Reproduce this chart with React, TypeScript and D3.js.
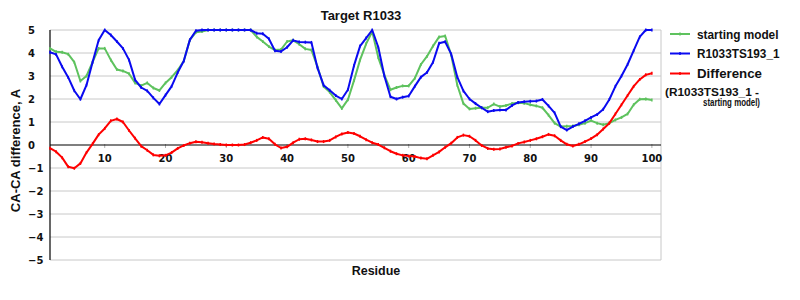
import React from "react";
import * as d3 from "d3";

const residues: number[] = Array.from({ length: 100 }, (_, i) => i + 1);

const startingModel: number[] = [
  4.2, 4.05, 4.03, 3.95, 3.6, 2.78, 3.0, 3.6, 4.2, 4.2,
  3.7, 3.28, 3.22, 3.1, 2.7, 2.58, 2.7, 2.48, 2.37, 2.7,
  2.95, 3.25, 3.65, 4.57, 4.9, 4.93, 5.0, 5.0, 5.0, 5.0,
  5.0, 5.0, 5.0, 5.0, 4.7, 4.5, 4.28, 4.13, 4.15, 4.5,
  4.55, 4.38, 4.18, 4.13, 3.4, 2.54, 2.3, 1.95, 1.59, 1.97,
  2.8, 3.7, 4.4, 4.93, 3.8, 3.04, 2.4, 2.5, 2.57, 2.57,
  2.9, 3.5, 3.85, 4.3, 4.7, 4.74, 3.9, 2.6, 1.8, 1.57,
  1.6, 1.62, 1.62, 1.78, 1.67, 1.72, 1.8, 1.84, 1.82, 1.75,
  1.7, 1.62, 1.3, 0.95, 0.8, 0.82, 0.83, 0.88, 0.95, 1.06,
  0.95, 0.88, 0.95, 1.09, 1.2, 1.35, 1.75, 1.99, 2.0, 1.96,
];

const model: number[] = [
  4.03, 3.94, 3.4, 2.94, 2.36, 1.99, 2.6, 3.6, 4.55, 5.0,
  4.78, 4.5, 4.2, 3.7, 2.83, 2.5, 2.35, 2.05, 1.78, 2.17,
  2.55, 3.15, 3.65, 4.57, 4.97, 5.0, 5.0, 5.0, 5.0, 5.0,
  5.0, 5.0, 5.0, 5.0, 4.86, 4.84, 4.62, 4.1, 4.07, 4.25,
  4.55, 4.48, 4.47, 4.46, 3.35, 2.6, 2.38, 2.15, 2.0, 2.4,
  3.45, 4.3, 4.65, 5.0, 4.25, 3.0, 2.1, 2.0, 2.08, 2.13,
  2.55, 2.95, 3.15, 3.6, 4.42, 4.49, 3.95, 2.95, 2.35, 2.0,
  1.8, 1.62, 1.45, 1.5, 1.52, 1.52, 1.72, 1.85, 1.88, 1.9,
  1.91, 1.98, 1.7, 1.4, 0.8, 0.65, 0.8, 0.92, 1.05, 1.2,
  1.33, 1.55, 1.98, 2.55, 3.0, 3.5, 4.1, 4.7, 5.0, 5.0,
];

const difference: number[] = [
  -0.14, -0.29, -0.55, -0.95, -1.01, -0.8, -0.33, 0.05, 0.45, 0.72,
  1.05, 1.13, 1.0, 0.63, 0.29, -0.05, -0.23, -0.43, -0.47, -0.45,
  -0.33, -0.15, -0.02, 0.08, 0.14, 0.12, 0.08, 0.04, 0.02, 0.0,
  0.0, 0.0, 0.02, 0.1, 0.2, 0.33, 0.27, 0.03, -0.13, -0.08,
  0.1, 0.25, 0.27, 0.22, 0.15, 0.15, 0.2, 0.35, 0.48, 0.54,
  0.5, 0.38, 0.23, 0.1, 0.02, -0.12, -0.27, -0.38, -0.45, -0.48,
  -0.5, -0.57, -0.6, -0.45, -0.3, -0.1, 0.08, 0.33, 0.43, 0.38,
  0.2, -0.02, -0.15, -0.18, -0.17, -0.1, -0.04, 0.07, 0.13, 0.2,
  0.27, 0.36, 0.46, 0.4, 0.2, 0.03, -0.04, 0.03, 0.15, 0.28,
  0.45, 0.7, 0.95, 1.35, 1.75, 2.15, 2.55, 2.85, 3.05, 3.12,
];

const xTicks: number[] = [10, 20, 30, 40, 50, 60, 70, 80, 90, 100];
const yTicks: number[] = [5, 4, 3, 2, 1, 0, -1, -2, -3, -4, -5];

const seriesNames: string[] = ["starting model", "R1033TS193_1", "Difference"];
const seriesColors: string[] = ["#5ec25e", "#0a0af0", "#ff0000"];

const titleText = "Target R1033";
const xTitle = "Residue";
const yTitle = "CA-CA difference, A";

export default function App() {
  const left = 50, right = 661, top = 30, bottom = 260;
  const x = d3.scaleLinear().domain([1, 101.5]).range([left, right]);
  const y = d3.scaleLinear().domain([-5, 5]).range([bottom, top]);
  const line = d3
    .line<number>()
    .x((_, i) => x(residues[i]))
    .y((d) => y(d));

  const series = [startingModel, model, difference];
  const fmt = (v: number) => (v < 0 ? "\u2212" + Math.abs(v) : String(v));
  const tickFont = "'DejaVu Sans', sans-serif";
  const labelFont = "'Liberation Sans', Arial, sans-serif";

  return (
    <svg
      width={800}
      height={300}
      style={{ position: "absolute", left: 0, top: 0, background: "#fff" }}
    >
      <rect x={0} y={0} width={800} height={300} fill="#fff" />
      {/* grid */}
      {yTicks
        .filter((t) => t !== 0)
        .map((t) => (
          <line key={"g" + t} x1={left} x2={right} y1={y(t)} y2={y(t)} stroke="#c8c8c8" strokeWidth={1} />
        ))}
      <line x1={right} x2={right} y1={top} y2={bottom} stroke="#c8c8c8" strokeWidth={1} />
      {/* x ticks */}
      {xTicks.map((t) => (
        <line key={"xt" + t} x1={x(t)} x2={x(t)} y1={y(0) - 1} y2={y(0) + 3} stroke="#b0b0b0" strokeWidth={1} />
      ))}
      <line x1={left} x2={right} y1={y(0)} y2={y(0)} stroke="#000" strokeWidth={1.2} />
      <line x1={left} x2={left} y1={top} y2={bottom} stroke="#000" strokeWidth={1.2} />
      {/* tick labels */}
      {yTicks.map((t) => (
        <text
          key={"yl" + t}
          x={28}
          y={y(t) + 4}
          fontFamily={tickFont}
          fontWeight="bold"
          fontSize={10}
          fill="#111"
        >
          {fmt(t)}
        </text>
      ))}
      {xTicks.map((t) => (
        <text
          key={"xl" + t}
          x={x(t)}
          y={y(0) + 17}
          textAnchor="middle"
          fontFamily={tickFont}
          fontWeight="bold"
          fontSize={10}
          fill="#111"
        >
          {t}
        </text>
      ))}
      {/* series */}
      {series.map((s, k) => (
        <g key={"s" + k}>
          <path d={line(s) || ""} fill="none" stroke={seriesColors[k]} strokeWidth={2} strokeLinejoin="round" />
          {s.map((v, i) => (
            <line
              key={i}
              x1={x(residues[i])}
              x2={x(residues[i])}
              y1={y(v) - 1.5}
              y2={y(v) + 1.5}
              stroke={seriesColors[k]}
              strokeWidth={1.5}
            />
          ))}
        </g>
      ))}
      {/* titles */}
      <text x={361} y={20} textAnchor="middle" fontFamily={labelFont} fontWeight="bold" fontSize={13} fill="#111">
        {titleText}
      </text>
      <text x={376} y={275} textAnchor="middle" fontFamily={labelFont} fontWeight="bold" fontSize={12.5} fill="#111">
        {xTitle}
      </text>
      <text
        transform="translate(20,150.5) rotate(-90)"
        textAnchor="middle"
        fontFamily={labelFont}
        fontWeight="bold"
        fontSize={13}
        fill="#111"
      >
        {yTitle}
      </text>
      {/* legend */}
      {seriesNames.map((n, k) => {
        const ly = [34, 53.5, 73.5][k];
        return (
          <g key={"lg" + k}>
            <line x1={670} x2={690} y1={ly} y2={ly} stroke={seriesColors[k]} strokeWidth={2} />
            <line x1={680} x2={680} y1={ly - 1.5} y2={ly + 1.5} stroke={seriesColors[k]} strokeWidth={1.5} />
            <text
              x={697}
              y={ly + 4.5}
              fontFamily={labelFont}
              fontWeight="bold"
              fontSize={k === 2 ? 13 : 12}
              fill="#111"
              textLength={[81.5, 82.5, 65][k]}
              lengthAdjust="spacingAndGlyphs"
            >
              {n}
            </text>
          </g>
        );
      })}
      <text x={665} y={96} fontFamily={labelFont} fontWeight="bold" fontSize={10} fill="#111" textLength={94} lengthAdjust="spacingAndGlyphs">
        {"(R1033TS193_1 -"}
      </text>
      <text x={703} y={106} fontFamily={labelFont} fontWeight="bold" fontSize={10} fill="#111" textLength={57} lengthAdjust="spacingAndGlyphs">
        {"starting model)"}
      </text>
    </svg>
  );
}
